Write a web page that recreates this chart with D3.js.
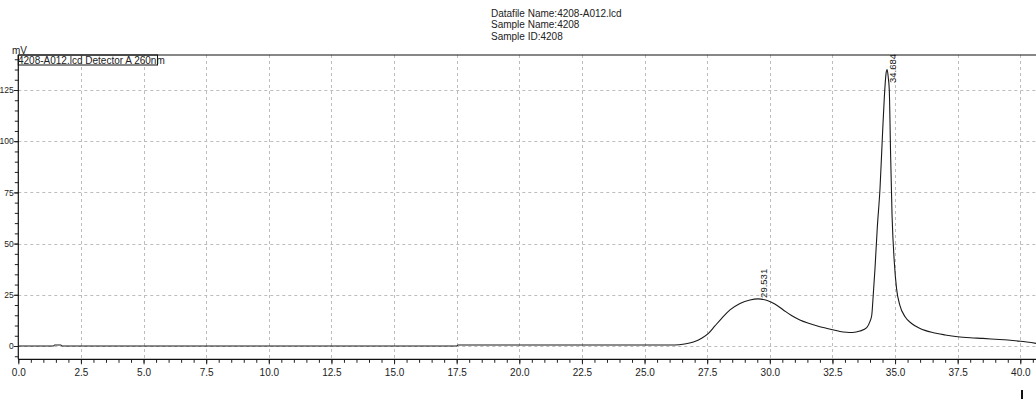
<!DOCTYPE html>
<html>
<head>
<meta charset="utf-8">
<script src="https://cdn.jsdelivr.net/npm/d3@7"></script>
<style>
  html, body { margin: 0; padding: 0; background: #fff; }
  svg { display: block; font-family: "Liberation Sans", Arial, sans-serif; }
</style>
</head>
<body>
<svg id="chart" width="1036" height="399"></svg>
<script>
// ---- data ----
const headerLines = ["Datafile Name:4208-A012.lcd", "Sample Name:4208", "Sample ID:4208"];
const legendLabel = "4208-A012.lcd Detector A 260nm";
const yUnit = "mV";
const xTickValues = [0, 2.5, 5, 7.5, 10, 12.5, 15, 17.5, 20, 22.5, 25, 27.5, 30, 32.5, 35, 37.5, 40];
const yTickValues = [0, 25, 50, 75, 100, 125];
const times = [0, 1.4, 1.45, 1.7, 1.75, 17.5, 17.55, 26.2, 26.6, 26.95, 27.28, 27.55, 27.81, 28.08, 28.41, 28.81, 29.21, 29.531, 29.9, 30.2, 30.54, 30.85, 31.2, 31.55, 31.9, 32.25, 32.56, 32.8, 33.07, 33.3, 33.6, 33.87, 34.0, 34.07, 34.13, 34.2, 34.29, 34.4, 34.49, 34.57, 34.64, 34.684, 34.73, 34.77, 34.82, 34.88, 34.97, 35.06, 35.19, 35.4, 35.66, 36.0, 36.5, 37.0, 37.5, 38.0, 38.5, 39.0, 39.5, 40.0, 40.63];
const signal = [0, 0, 0.5, 0.5, 0, 0, 0.5, 0.5, 1, 2, 3.8, 6.2, 9.8, 13.5, 17.6, 20.8, 22.5, 23, 22.2, 20.5, 17.6, 15.0, 12.7, 11.1, 9.8, 8.7, 7.8, 7.1, 6.7, 6.6, 7.3, 9.0, 12, 15, 25, 38, 57.6, 77, 101, 121, 133, 135, 131, 125, 95, 64, 41, 28, 20, 14.3, 11, 8.6, 6.6, 5.4, 4.5, 4.0, 3.7, 3.3, 2.9, 2.3, 1.3];
const peakTimes = [29.531, 34.684];
const peakValues = [23, 135];
const peakLabels = ["29.531", "34.684"];

// ---- layout ----
const svg = d3.select("#chart");
const plotLeft = 18.3, plotRight = 1036, plotTop = 55, plotBottom = 359.3;
const x = d3.scaleLinear().domain([0, (plotRight - plotLeft) / 25.05]).range([plotLeft, plotRight]);
const y = d3.scaleLinear().domain([-(plotBottom - 346) / 2.048, (346 - plotTop) / 2.048]).range([plotBottom, plotTop]);

const textColor = "#222";

// header
svg.append("g").selectAll("text").data(headerLines).join("text")
  .attr("x", 491).attr("y", (d, i) => 16.5 + i * 11.8)
  .attr("font-size", 10).attr("fill", textColor).text(d => d);

// gridlines
const grid = svg.append("g").attr("stroke", "#bdbdbd").attr("stroke-dasharray", "3,3").attr("stroke-width", 1);
grid.selectAll("line.v").data(xTickValues.filter(d => d > 0)).join("line").attr("class", "v")
  .attr("x1", d => Math.round(x(d)) + 0.5).attr("x2", d => Math.round(x(d)) + 0.5)
  .attr("y1", plotTop).attr("y2", plotBottom);
grid.selectAll("line.h").data(yTickValues).join("line").attr("class", "h")
  .attr("y1", d => Math.round(y(d)) + 0.5).attr("y2", d => Math.round(y(d)) + 0.5)
  .attr("x1", plotLeft).attr("x2", plotRight);

// x axis
const xMinor = d3.range(0, 40.61, 0.5);
const xAxisMinor = svg.append("g").attr("transform", `translate(0,${plotBottom})`)
  .call(d3.axisBottom(x).tickValues(xMinor).tickSize(3.5).tickFormat(""));
xAxisMinor.select(".domain").remove();
const xAxisMajor = svg.append("g").attr("transform", `translate(0,${plotBottom})`)
  .call(d3.axisBottom(x).tickValues(xTickValues).tickSize(5).tickPadding(5).tickFormat(d3.format(".1f")));
xAxisMajor.selectAll("text").attr("font-size", 10).attr("fill", textColor).attr("font-family", "Liberation Sans, Arial, sans-serif");
xAxisMajor.select(".domain").remove();

// y axis
const yMinor = d3.range(-5, 141, 5);
const yAxisMinor = svg.append("g").attr("transform", `translate(${plotLeft},0)`)
  .call(d3.axisLeft(y).tickValues(yMinor).tickSize(3.5).tickFormat(""));
yAxisMinor.select(".domain").remove();
const yAxisMajor = svg.append("g").attr("transform", `translate(${plotLeft},0)`)
  .call(d3.axisLeft(y).tickValues(yTickValues).tickSize(4.5).tickPadding(0).tickFormat(d3.format("d")));
yAxisMajor.selectAll("text").attr("font-size", 8.5).attr("fill", textColor).attr("font-family", "Liberation Sans, Arial, sans-serif");
yAxisMajor.select(".domain").remove();
svg.selectAll(".tick line").attr("stroke", "#222");

// frame lines
svg.append("line").attr("x1", plotLeft).attr("x2", plotRight).attr("y1", plotTop).attr("y2", plotTop).attr("stroke", "#111").attr("stroke-width", 1.2);
svg.append("line").attr("x1", plotLeft).attr("x2", plotLeft).attr("y1", plotTop).attr("y2", plotBottom).attr("stroke", "#111").attr("stroke-width", 1.2);
svg.append("line").attr("x1", plotLeft).attr("x2", plotRight).attr("y1", plotBottom).attr("y2", plotBottom).attr("stroke", "#111").attr("stroke-width", 1.2);

// unit label
svg.append("text").attr("x", 12).attr("y", 54).attr("font-size", 10).attr("fill", textColor).text(yUnit);

// data line
const data = times.map((t, i) => ({ t, v: signal[i] }));
svg.append("path").datum(data)
  .attr("fill", "none").attr("stroke", "#1a1a1a").attr("stroke-width", 1.1)
  .attr("d", d3.line().x(d => x(d.t)).y(d => y(d.v)).curve(d3.curveMonotoneX));

// legend box
svg.append("rect").attr("x", plotLeft).attr("y", plotTop).attr("width", 157.5 - plotLeft).attr("height", 10)
  .attr("fill", "none").attr("stroke", "#111").attr("stroke-width", 1);
svg.append("text").attr("x", 18).attr("y", 64).attr("font-size", 10).attr("fill", textColor).text(legendLabel);

// peak labels
peakTimes.forEach((pt, i) => {
  const px = x(pt) + 8.5;
  const textLen = 28;
  let py = y(peakValues[i]) - 1;
  if (py - textLen < plotTop) py = plotTop + textLen;
  svg.append("text")
    .attr("transform", `translate(${px},${py}) rotate(-90)`)
    .attr("font-size", 9.5).attr("fill", textColor).text(peakLabels[i]);
});

// small cursor mark bottom right
svg.append("rect").attr("x", 1021).attr("y", 390).attr("width", 2).attr("height", 9).attr("fill", "#111");
</script>
</body>
</html>
